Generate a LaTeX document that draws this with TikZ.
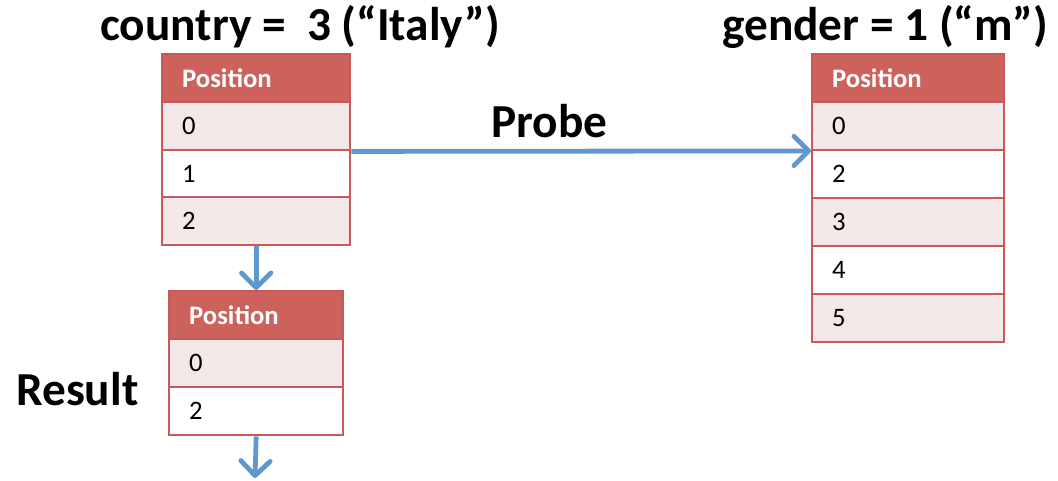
\documentclass[tikz,border=0pt]{standalone}
\usepackage{fontspec}
\setmainfont{Carlito}
\usetikzlibrary{arrows.meta}
\definecolor{hdrfill}{HTML}{CD625D}
\definecolor{bord}{HTML}{C9585A}
\definecolor{lightrow}{HTML}{F2E9E8}
\definecolor{arrowcol}{HTML}{5E98CF}
\tikzset{
  cellbase/.style={draw=bord, line width=1.8pt, anchor=north west, inner xsep=15pt, inner ysep=0pt,
    align=left, font=\fontsize{20}{22}\selectfont, minimum height=36pt, text depth=0pt},
  hdrcell/.style={cellbase, fill=hdrfill, text=white, font=\bfseries\fontsize{20}{22}\selectfont},
  oddcell/.style={cellbase, fill=lightrow},
  evencell/.style={cellbase, fill=white},
  wideA/.style={text width=111pt},
  wideB/.style={text width=100.5pt},
  wideC/.style={text width=114pt},
  bigtext/.style={anchor=base west, inner sep=0pt, font=\bfseries\fontsize{35.5}{40}\selectfont},
  flow/.style={draw=arrowcol, line width=3.6pt, -{Straight Barb[length=11pt,width=22pt,round]}}
}
\begin{document}
\begin{tikzpicture}[x=0.75pt,y=-0.75pt]
\useasboundingbox (0,0) rectangle (1058,480);
% titles
\node[bigtext] (t1) at (100,40) {country =\ \ 3 (“Italy”)};
\node[bigtext] (t2) at (722,40) {gender = 1 (“m”)};
\node[bigtext] (probe) at (491,137) {Probe};
\node[bigtext] (res) at (16,405) {Result};
% table 1
\node[hdrcell, wideA] (ah) at (161,53) {Position};
\node[oddcell, wideA] (a0) at (161,101) {0};
\node[evencell, wideA] (a1) at (161,148.5) {1};
\node[oddcell, wideA] (a2) at (161,196) {2};
% table 2 (result)
\node[hdrcell, wideB] (bh) at (168,290) {Position};
\node[oddcell, wideB] (b0) at (168,338) {0};
\node[evencell, wideB] (b1) at (168,386) {2};
% table 3
\node[hdrcell, wideC] (ch) at (811,52.5) {Position};
\node[oddcell, wideC] (c0) at (811,100.5) {0};
\node[evencell, wideC] (c1) at (811,148.5) {2};
\node[oddcell, wideC] (c2) at (811,196.5) {3};
\node[evencell, wideC] (c3) at (811,244.5) {4};
\node[oddcell, wideC] (c4) at (811,292.5) {5};
% arrows
\coordinate (end) at (255,478);
\draw[flow] (a0.south east) -- (c0.south west);
\draw[flow] (a2.south) -- (bh.north);
\draw[flow] (b1.south) -- (end);
\end{tikzpicture}
\end{document}
